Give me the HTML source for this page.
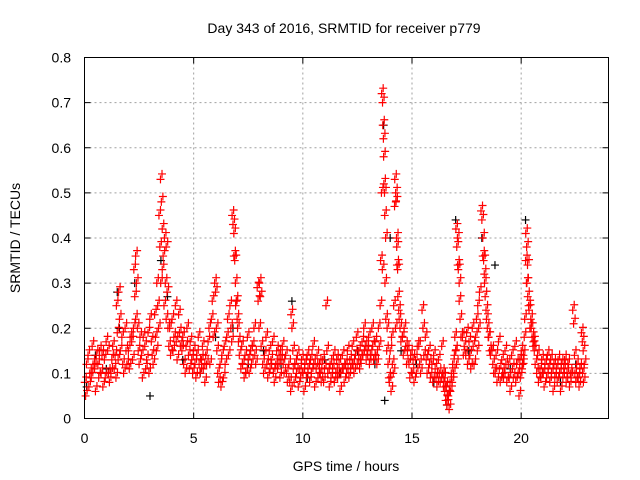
<!DOCTYPE html>
<html><head><meta charset="utf-8"><style>
html,body{margin:0;padding:0;background:#fff;}
svg{display:block;font-family:"Liberation Sans",sans-serif;}
</style></head><body>
<svg id="chart" width="640" height="480" viewBox="0 0 640 480">
<rect x="0" y="0" width="640" height="480" fill="#fff"/>
<text x="344" y="33" font-size="14" text-anchor="middle">Day 343 of 2016, SRMTID for receiver p779</text>
<g id="grid"></g>
<g id="ticks"></g>
<g id="black"></g>
<g id="red"></g>
<rect x="84.5" y="57.5" width="524" height="361" fill="none" stroke="#000" stroke-width="1"/>
<text x="346" y="471" font-size="14" text-anchor="middle">GPS time / hours</text>
<text transform="translate(20,238) rotate(-90)" font-size="14" text-anchor="middle">SRMTID / TECUs</text>
</svg>
<script>
const xTicks=[0,5,10,15,20];
const yTicks=[0,0.1,0.2,0.3,0.4,0.5,0.6,0.7,0.8];
const yTickLabels=["0","0.1","0.2","0.3","0.4","0.5","0.6","0.7","0.8"];
// each row: [time (h), value, value, value]
const redRows=[
[0.05,0.08,0.05,0.12],[0.2,0.14,0.07,0.1],[0.35,0.09,0.16,0.12],[0.5,0.11,0.06,0.14],[0.65,0.12,0.09,0.15],
[0.8,0.1,0.14,0.07],[0.95,0.13,0.09,0.17],[1.1,0.15,0.1,0.08],[1.25,0.1,0.13,0.16],[1.4,0.11,0.14,0.09],
[1.5,0.25,0.19,0.13],[1.6,0.28,0.22,0.15],[1.75,0.18,0.12,0.1],[1.9,0.2,0.15,0.12],[2.05,0.15,0.11,0.18],
[2.2,0.17,0.13,0.2],[2.3,0.33,0.27,0.22],[2.38,0.36,0.3,0.2],[2.5,0.15,0.12,0.18],[2.65,0.14,0.09,0.18],
[2.8,0.16,0.11,0.13],[2.95,0.19,0.1,0.22],[3.1,0.17,0.14,0.12],[3.25,0.23,0.18,0.15],[3.35,0.3,0.25,0.2],
[3.45,0.45,0.38,0.3],[3.52,0.53,0.48,0.33],[3.6,0.42,0.36,0.25],[3.7,0.4,0.3,0.22],[3.78,0.38,0.28,0.2],
[3.9,0.16,0.2,0.14],[4.05,0.22,0.15,0.18],[4.2,0.25,0.17,0.13],[4.35,0.23,0.19,0.16],[4.5,0.15,0.18,0.12],
[4.65,0.1,0.16,0.2],[4.8,0.14,0.11,0.17],[4.95,0.13,0.1,0.15],[5.1,0.12,0.09,0.14],[5.25,0.18,0.12,0.1],
[5.4,0.13,0.16,0.11],[5.55,0.08,0.14,0.12],[5.7,0.17,0.2,0.12],[5.85,0.22,0.26,0.18],[6.0,0.3,0.28,0.2],
[6.1,0.15,0.1,0.08],[6.25,0.12,0.07,0.14],[6.4,0.09,0.16,0.12],[6.55,0.18,0.22,0.14],[6.7,0.25,0.2,0.17],
[6.8,0.45,0.43,0.36],[6.88,0.41,0.35,0.25],[6.95,0.3,0.26,0.22],[7.05,0.2,0.17,0.14],[7.2,0.11,0.16,0.12],
[7.35,0.09,0.14,0.1],[7.5,0.18,0.13,0.1],[7.65,0.15,0.12,0.16],[7.8,0.2,0.14,0.12],[7.95,0.29,0.26,0.2],
[8.05,0.3,0.27,0.16],[8.2,0.12,0.1,0.14],[8.35,0.18,0.12,0.09],[8.5,0.15,0.11,0.13],[8.65,0.17,0.1,0.08],
[8.8,0.12,0.15,0.11],[8.95,0.14,0.09,0.13],[9.1,0.16,0.12,0.1],[9.25,0.14,0.1,0.08],[9.4,0.12,0.08,0.06],
[9.5,0.23,0.2,0.15],[9.6,0.11,0.08,0.12],[9.75,0.1,0.14,0.07],[9.9,0.11,0.09,0.13],[10.05,0.1,0.06,0.12],
[10.2,0.09,0.14,0.11],[10.35,0.08,0.13,0.1],[10.5,0.16,0.12,0.07],[10.65,0.11,0.14,0.09],[10.8,0.12,0.1,0.08],
[10.95,0.13,0.08,0.11],[11.1,0.25,0.15,0.1],[11.25,0.07,0.12,0.09],[11.4,0.11,0.14,0.08],[11.55,0.1,0.13,0.09],
[11.7,0.12,0.06,0.1],[11.85,0.14,0.11,0.08],[12.0,0.12,0.1,0.15],[12.15,0.09,0.13,0.11],[12.3,0.16,0.12,0.1],
[12.45,0.14,0.18,0.12],[12.6,0.15,0.11,0.13],[12.75,0.17,0.14,0.2],[12.9,0.16,0.13,0.15],[13.05,0.18,0.12,0.14],
[13.2,0.2,0.16,0.13],[13.35,0.17,0.14,0.12],[13.5,0.2,0.16,0.25],[13.6,0.35,0.5,0.33],[13.65,0.72,0.7,0.62],
[13.7,0.65,0.58,0.5],[13.75,0.52,0.45,0.4],[13.8,0.3,0.22,0.15],[13.9,0.2,0.12,0.09],[14.0,0.08,0.15,0.06],
[14.1,0.18,0.12,0.1],[14.2,0.25,0.47,0.2],[14.25,0.53,0.5,0.4],[14.3,0.48,0.38,0.33],[14.35,0.34,0.27,0.24],
[14.45,0.22,0.2,0.17],[14.6,0.18,0.14,0.2],[14.75,0.16,0.12,0.15],[14.9,0.12,0.09,0.14],[15.05,0.1,0.13,0.08],
[15.2,0.13,0.1,0.16],[15.35,0.16,0.12,0.1],[15.5,0.24,0.2,0.14],[15.65,0.18,0.13,0.1],[15.8,0.15,0.12,0.09],
[15.95,0.12,0.08,0.14],[16.1,0.11,0.09,0.07],[16.25,0.13,0.1,0.08],[16.4,0.16,0.1,0.07],[16.5,0.09,0.06,0.04],
[16.6,0.07,0.03,0.05],[16.7,0.05,0.02,0.08],[16.8,0.06,0.1,0.08],[16.9,0.12,0.1,0.14],[17.0,0.18,0.15,0.12],
[17.05,0.42,0.38,0.34],[17.12,0.4,0.33,0.3],[17.2,0.26,0.22,0.18],[17.35,0.18,0.14,0.16],[17.5,0.14,0.19,0.12],
[17.65,0.17,0.14,0.11],[17.8,0.2,0.16,0.12],[17.95,0.18,0.22,0.15],[18.05,0.25,0.2,0.28],[18.2,0.46,0.44,0.36],
[18.28,0.4,0.35,0.3],[18.35,0.32,0.27,0.24],[18.45,0.22,0.2,0.18],[18.55,0.18,0.15,0.14],[18.7,0.15,0.12,0.1],
[18.85,0.1,0.14,0.08],[19.0,0.17,0.11,0.08],[19.15,0.13,0.1,0.09],[19.3,0.15,0.12,0.08],[19.45,0.12,0.09,0.06],
[19.6,0.14,0.11,0.09],[19.75,0.16,0.08,0.12],[19.9,0.1,0.05,0.13],[20.0,0.09,0.15,0.11],[20.1,0.12,0.14,0.18],
[20.2,0.22,0.35,0.3],[20.25,0.41,0.38,0.34],[20.3,0.3,0.27,0.25],[20.4,0.24,0.2,0.22],[20.5,0.2,0.18,0.16],
[20.6,0.17,0.15,0.12],[20.75,0.1,0.14,0.08],[20.9,0.11,0.09,0.13],[21.05,0.1,0.07,0.12],[21.2,0.09,0.14,0.11],
[21.35,0.08,0.13,0.1],[21.5,0.06,0.12,0.09],[21.65,0.11,0.08,0.13],[21.8,0.1,0.06,0.12],[21.95,0.09,0.11,0.13],
[22.1,0.08,0.1,0.12],[22.25,0.07,0.1,0.09],[22.4,0.24,0.21,0.14],[22.5,0.1,0.08,0.12],[22.65,0.09,0.07,0.11],
[22.8,0.19,0.17,0.15],[22.85,0.1,0.08,0.12]
];
const blackT=[0.1,0.5,1.0,1.5,1.6,2.3,3.0,3.5,3.8,4.5,5.3,6.0,6.8,7.5,8.2,9.0,9.5,10.2,11.0,11.7,12.5,13.3,13.7,13.75,14.0,14.5,15.2,16.0,16.6,17.0,17.6,18.2,18.8,19.5,20.2,21.0,21.8,22.5];
const blackV=[0.07,0.14,0.11,0.28,0.2,0.3,0.05,0.35,0.27,0.13,0.1,0.18,0.2,0.12,0.15,0.12,0.26,0.09,0.13,0.1,0.15,0.12,0.65,0.04,0.4,0.15,0.12,0.08,0.03,0.44,0.15,0.4,0.34,0.11,0.44,0.1,0.08,0.12];

const X0=84.5,X1=608.5,Y0=418.5,Y1=57.5,XMAX=24,YMAX=0.8;
function xs(t){return X0+(X1-X0)*t/XMAX;}
function ys(v){return Y0-(Y0-Y1)*v/YMAX;}
const NS="http://www.w3.org/2000/svg";
function mk(tag,attrs,parent){const e=document.createElementNS(NS,tag);for(const k in attrs)e.setAttribute(k,attrs[k]);parent.appendChild(e);return e;}
const grid=document.getElementById('grid'),ticks=document.getElementById('ticks');
xTicks.forEach(t=>{const x=xs(t);
 if(t>0){const g=mk('line',{x1:x,x2:x,y1:Y1,y2:Y0,stroke:'#a0a0a0','stroke-dasharray':'2,3'},grid);
 
 }
 mk('line',{x1:x,x2:x,y1:Y0,y2:Y0-6,stroke:'#000'},ticks);
 mk('line',{x1:x,x2:x,y1:Y1,y2:Y1+6,stroke:'#000'},ticks);
 const l=mk('text',{x:x,y:443,'font-size':14,'text-anchor':'middle'},ticks);l.textContent=t;
 
 
});
yTicks.forEach((v,i)=>{const y=ys(v);
 if(v>0&&v<YMAX){const g=mk('line',{x1:X0,x2:X1,y1:y,y2:y,stroke:'#a0a0a0','stroke-dasharray':'2,3'},grid);
 
 }
 mk('line',{x1:X0,x2:X0+6,y1:y,y2:y,stroke:'#000'},ticks);
 mk('line',{x1:X1,x2:X1-6,y1:y,y2:y,stroke:'#000'},ticks);
 const l=mk('text',{x:71,y:y+5,'font-size':14,'text-anchor':'end'},ticks);l.textContent=yTickLabels[i];
 
 
});
function plus(t,v,color,parent){const x=xs(t),y=ys(v);
 const p=mk('path',{d:`M${x-4} ${y}H${x+4}M${x} ${y-4}V${y+4}`,stroke:color,'stroke-width':1.2,fill:'none'},parent);
 
 
}
const bg=document.getElementById('black'),rg=document.getElementById('red');
blackT.forEach((t,i)=>plus(t,blackV[i],'#000',bg));
redRows.forEach(r=>{for(let k=1;k<r.length;k++){plus(r[0]+(k-2)*0.04,r[k],'#ff0000',rg);plus(r[0]+(k-2)*0.04+0.07,r[k]+0.012,'#ff0000',rg);}});
</script>
</body></html>
